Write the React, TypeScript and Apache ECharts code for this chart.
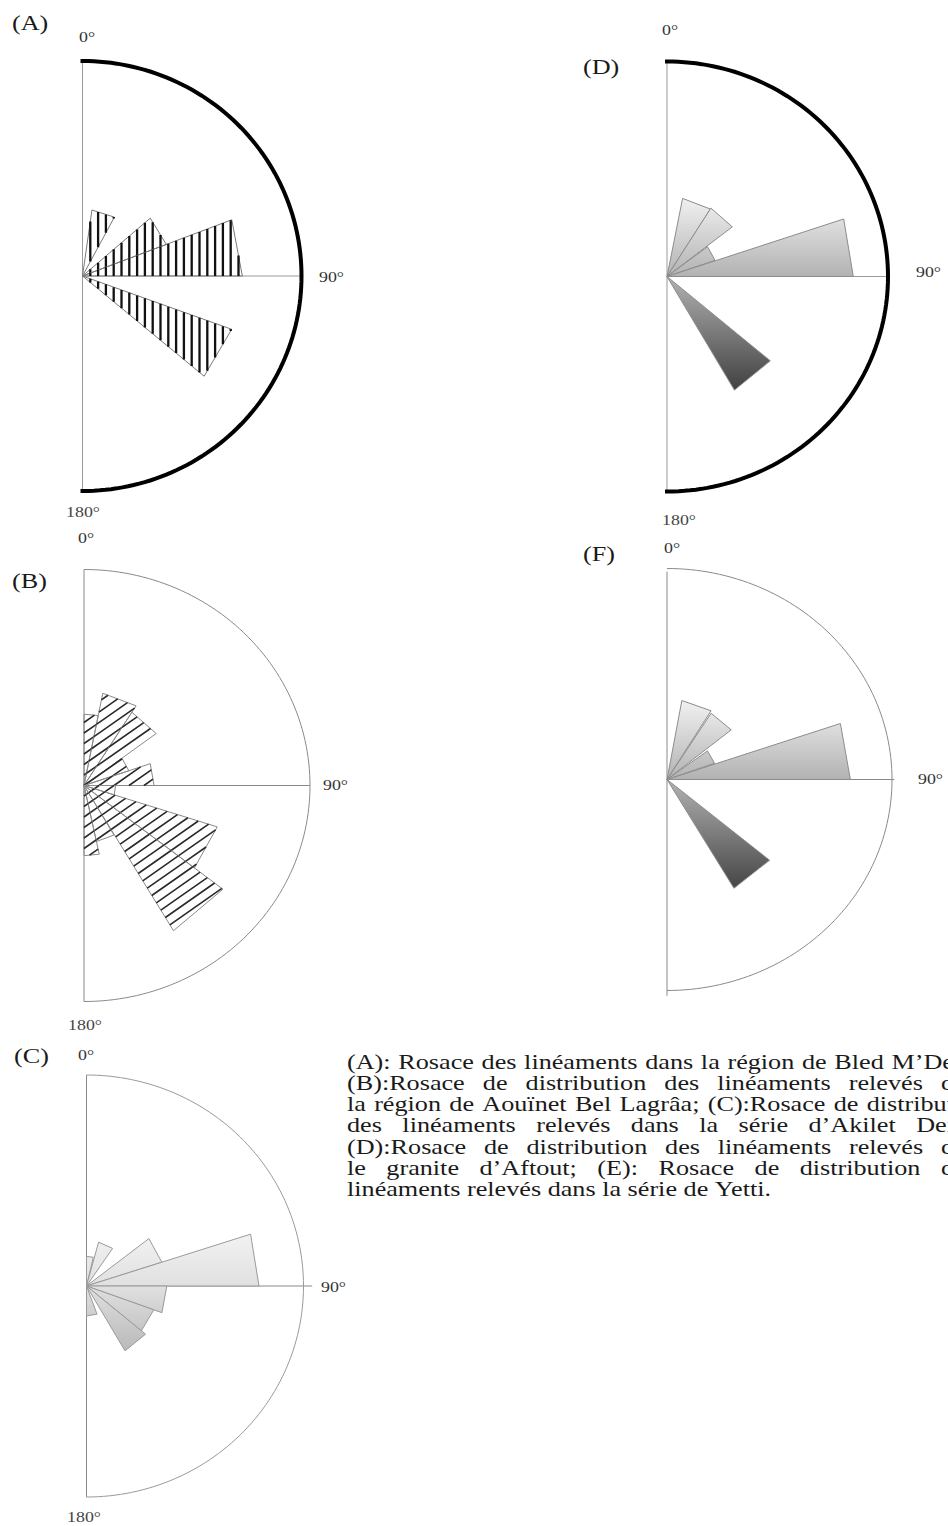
import React, { useEffect, useRef } from "react";
import * as echarts from "echarts";

// ---------------- DATA ----------------
// Each petal: start azimuth (deg, clockwise from 0° = north), end azimuth, length (% of outer circle radius)
const roseA_from = [8, 49, 69, 110];
const roseA_to = [28, 69, 90, 130];
const roseA_len = [31, 41, 73, 72.5];

const roseB_from = [0, 11, 32, 53, 71, 90, 108, 128, 150, 168];
const roseB_to = [11, 32, 53, 71, 90, 108, 128, 149.5, 168, 180];
const roseB_len = [33, 43.5, 40, 21, 31, 14, 62, 78, 26.5, 32.5];

const roseC_from = [0, 15, 52, 72, 90, 110, 130, 160];
const roseC_to = [13, 34, 72, 90, 110, 130, 150, 180];
const roseC_len = [14, 21.5, 36.5, 79.5, 37, 33, 35.5, 14.2];

const roseD_from = [11, 32, 53, 71.5, 130];
const roseD_to = [32, 52, 71, 90, 150];
const roseD_len = [37, 37.5, 23, 84.3, 61];

const roseF_from = [10, 32, 53, 71, 130];
const roseF_to = [31, 50.5, 70, 90, 150];
const roseF_len = [38, 37, 22.5, 81.5, 59.5];

const angleTickLabels = ["0°", "90°", "180°"];
const panelLabels = ["(A)", "(B)", "(C)", "(D)", "(F)"];

const captionLines = [
  "(A): Rosace des linéaments dans la région de Bled M’De",
  "(B):Rosace de distribution des linéaments relevés d",
  "la région de Aouïnet Bel Lagrâa; (C):Rosace de distribut",
  "des linéaments relevés dans la série d’Akilet Dei",
  "(D):Rosace de distribution des linéaments relevés d",
  "le granite d’Aftout; (E): Rosace de distribution d",
  "linéaments relevés dans la série de Yetti.",
];

// ---------------- LAYOUT / STYLE ----------------
const SERIF = '"Liberation Serif", "DejaVu Serif", serif';
const TEXT_SX = 1.19;

type Hatch = { angle: number; spacing: number; width: number; color: string };
type Panel = {
  from: number[]; to: number[]; len: number[];
  cx: number; cy: number; rx: number; ry: number;
  arcColor: string; arcWidth: number; axisColor: string;
  hLen: number; vTop: number; vBot: number;
  fill: any; stroke: string; hatch?: Hatch;
  label: { x: number; y: number };
  tick0: { x: number; y: number }; tick90: { x: number; y: number }; tick180?: { x: number; y: number };
};

function grad(cy: number, stops: [number, string][]) {
  const y1 = cy + stops[0][0];
  const y2 = cy + stops[stops.length - 1][0];
  return {
    type: "linear", x: 0, y: y1, x2: 0, y2: y2, global: true,
    colorStops: stops.map(([dy, c]) => ({ offset: (cy + dy - y1) / (y2 - y1), color: c })),
  };
}

const panels: Panel[] = [
  {
    from: roseA_from, to: roseA_to, len: roseA_len,
    cx: 82.5, cy: 276, rx: 219, ry: 215,
    arcColor: "#000", arcWidth: 4, axisColor: "#9a9a9a", hLen: 100, vTop: 100, vBot: -100,
    fill: "none", stroke: "#7a7a7a",
    hatch: { angle: 90, spacing: 7.8, width: 2.3, color: "#111" },
    label: { x: 12, y: 22 }, tick0: { x: 87, y: 37 }, tick90: { x: 319, y: 277 }, tick180: { x: 83, y: 512 },
  },
  {
    from: roseB_from, to: roseB_to, len: roseB_len,
    cx: 84, cy: 785.5, rx: 226, ry: 216,
    arcColor: "#8a8a8a", arcWidth: 1, axisColor: "#8a8a8a", hLen: 100, vTop: 100, vBot: -100,
    fill: "none", stroke: "#8a8a8a",
    hatch: { angle: 35, spacing: 8.6, width: 1.6, color: "#2a2a2a" },
    label: { x: 12, y: 580 }, tick0: { x: 86, y: 538 }, tick90: { x: 323, y: 785 }, tick180: { x: 85, y: 1025 },
  },
  {
    from: roseC_from, to: roseC_to, len: roseC_len,
    cx: 86.5, cy: 1286, rx: 217, ry: 211,
    arcColor: "#9a9a9a", arcWidth: 1, axisColor: "#8a8a8a", hLen: 104, vTop: 100, vBot: -100,
    fill: grad(1286, [[-60, "#f5f5f5"], [0, "#e0e0e0"], [75, "#b3b3b3"]]), stroke: "#9a9a9a",
    label: { x: 14, y: 1055 }, tick0: { x: 86, y: 1055 }, tick90: { x: 321, y: 1287 }, tick180: { x: 84, y: 1517 },
  },
  {
    from: roseD_from, to: roseD_to, len: roseD_len,
    cx: 667, cy: 276.5, rx: 221, ry: 215,
    arcColor: "#000", arcWidth: 4, axisColor: "#9a9a9a", hLen: 100, vTop: 100, vBot: -100,
    fill: grad(276.5, [[-85, "#f6f6f6"], [0, "#b2b2b2"], [120, "#3a3a3a"]]), stroke: "#8c8c8c",
    label: { x: 583, y: 66 }, tick0: { x: 670, y: 30 }, tick90: { x: 916, y: 272 }, tick180: { x: 679, y: 520 },
  },
  {
    from: roseF_from, to: roseF_to, len: roseF_len,
    cx: 667, cy: 779.5, rx: 225, ry: 211,
    arcColor: "#8a8a8a", arcWidth: 1, axisColor: "#8a8a8a", hLen: 101, vTop: 98.5, vBot: -102.5,
    fill: grad(779.5, [[-85, "#f6f6f6"], [0, "#b2b2b2"], [120, "#3a3a3a"]]), stroke: "#8c8c8c",
    label: { x: 583, y: 553 }, tick0: { x: 672, y: 548 }, tick90: { x: 918, y: 779 },
  },
];

const RAD = Math.PI / 180;

function hatchPath(pts: number[][], origin: number[], h: Hatch): string {
  const t = h.angle * RAD;
  const n = [Math.sin(t), Math.cos(t)];
  const ds = pts.map((p) => (p[0] - origin[0]) * n[0] + (p[1] - origin[1]) * n[1]);
  const dmin = Math.min(...ds), dmax = Math.max(...ds);
  const k0 = Math.ceil(dmin / h.spacing), k1 = Math.floor(dmax / h.spacing);
  let d = "";
  for (let k = k0; k <= k1; k++) {
    const dd = k * h.spacing;
    const hits: number[][] = [];
    for (let i = 0; i < pts.length; i++) {
      const j = (i + 1) % pts.length;
      const da = ds[i] - dd, db = ds[j] - dd;
      if ((da <= 0 && db > 0) || (da > 0 && db <= 0)) {
        const tt = da / (da - db);
        hits.push([pts[i][0] + (pts[j][0] - pts[i][0]) * tt, pts[i][1] + (pts[j][1] - pts[i][1]) * tt]);
      }
    }
    if (hits.length >= 2) d += `M${hits[0][0]} ${hits[0][1]}L${hits[1][0]} ${hits[1][1]}`;
  }
  return d;
}

function buildOption() {
  const grid: any[] = [], xAxis: any[] = [], yAxis: any[] = [], series: any[] = [];
  panels.forEach((p, i) => {
    grid.push({ left: p.cx, top: p.cy - p.ry, width: p.rx, height: 2 * p.ry, show: false });
    xAxis.push({ type: "value", gridIndex: i, min: 0, max: 100, show: false });
    yAxis.push({ type: "value", gridIndex: i, min: -100, max: 100, show: false });
    // frame: diameter, 90° radius and the half circle
    series.push({
      type: "custom", coordinateSystem: "cartesian2d", xAxisIndex: i, yAxisIndex: i, silent: true,
      data: [[0, 0]],
      renderItem: (_: any, api: any) => {
        const arc: number[][] = [];
        for (let a = 0; a <= 180; a += 1.5) arc.push(api.coord([100 * Math.sin(a * RAD), 100 * Math.cos(a * RAD)]));
        const top = api.coord([0, p.vTop]), bot = api.coord([0, p.vBot]);
        const c = api.coord([0, 0]), e = api.coord([p.hLen, 0]);
        return {
          type: "group",
          children: [
            { type: "line", shape: { x1: top[0], y1: top[1], x2: bot[0], y2: bot[1] }, style: { stroke: p.axisColor, lineWidth: 1 } },
            { type: "line", shape: { x1: c[0], y1: c[1], x2: e[0], y2: e[1] }, style: { stroke: p.axisColor, lineWidth: 1 } },
            { type: "polyline", shape: { points: arc }, style: { stroke: p.arcColor, lineWidth: p.arcWidth, fill: "none", lineCap: p.arcWidth > 2 ? "square" : "butt" } },
          ],
        };
      },
    });
    // petals
    series.push({
      type: "custom", coordinateSystem: "cartesian2d", xAxisIndex: i, yAxisIndex: i, silent: true,
      data: p.from.map((f, k) => [f, p.to[k], p.len[k]]),
      renderItem: (_: any, api: any) => {
        const a1 = api.value(0) * RAD, a2 = api.value(1) * RAD, v = api.value(2);
        const c = api.coord([0, 0]);
        const p1 = api.coord([v * Math.sin(a1), v * Math.cos(a1)]);
        const p2 = api.coord([v * Math.sin(a2), v * Math.cos(a2)]);
        const pts = [c, p1, p2];
        const children: any[] = [
          { type: "polygon", shape: { points: pts }, style: { fill: p.fill, stroke: p.stroke, lineWidth: 1 } },
        ];
        if (p.hatch) {
          children.push({
            type: "path", shape: { pathData: hatchPath(pts, c, p.hatch) },
            style: { fill: "none", stroke: p.hatch.color, lineWidth: p.hatch.width },
          });
        }
        return { type: "group", children };
      },
    });
  });

  // texts
  const graphic: any[] = [];
  const txt = (text: string, x: number, y: number, size: number, align: string, color: string, sx = TEXT_SX) => ({
    type: "text", x, y, scaleX: sx, silent: true,
    style: { text, font: `${size}px ${SERIF}`, fill: color, textAlign: align, textVerticalAlign: "middle" },
  });
  panels.forEach((p, i) => {
    graphic.push(txt(panelLabels[i], p.label.x, p.label.y, 22, "left", "#1a1a1a"));
    graphic.push(txt(angleTickLabels[0], p.tick0.x, p.tick0.y, 15, "center", "#333"));
    graphic.push(txt(angleTickLabels[1], p.tick90.x, p.tick90.y, 15, "left", "#333"));
    if (p.tick180) graphic.push(txt(angleTickLabels[2], p.tick180.x, p.tick180.y, 15, "center", "#444"));
  });

  // caption (justified)
  const CAP_SIZE = 22, CAP_LEFT = 347, CAP_RIGHT = 954, CAP_TOP = 1061, CAP_PITCH = 21.2;
  const ctx = document.createElement("canvas").getContext("2d")!;
  ctx.font = `${CAP_SIZE}px ${SERIF}`;
  const spaceW = ctx.measureText(" ").width * TEXT_SX;
  captionLines.forEach((line, li) => {
    const y = CAP_TOP + li * CAP_PITCH;
    const words = line.split(" ");
    const widths = words.map((w) => ctx.measureText(w).width * TEXT_SX);
    const total = widths.reduce((s, w) => s + w, 0);
    const last = li === captionLines.length - 1;
    const gap = last || words.length < 2 ? spaceW : Math.max(spaceW * 0.6, (CAP_RIGHT - CAP_LEFT - total) / (words.length - 1));
    let x = CAP_LEFT;
    words.forEach((w, k) => {
      graphic.push(txt(w, x, y, CAP_SIZE, "left", "#1a1a1a"));
      x += widths[k] + gap;
    });
  });

  return { animation: false, backgroundColor: "#fff", grid, xAxis, yAxis, series, graphic };
}

export default function App() {
  const ref = useRef<HTMLDivElement>(null);
  useEffect(() => {
    if (!ref.current) return;
    const chart = echarts.init(ref.current, undefined, { renderer: "svg" });
    chart.setOption(buildOption() as any);
    return () => chart.dispose();
  }, []);
  return <div ref={ref} style={{ position: "absolute", left: 0, top: 0, width: 948, height: 1526 }} />;
}
